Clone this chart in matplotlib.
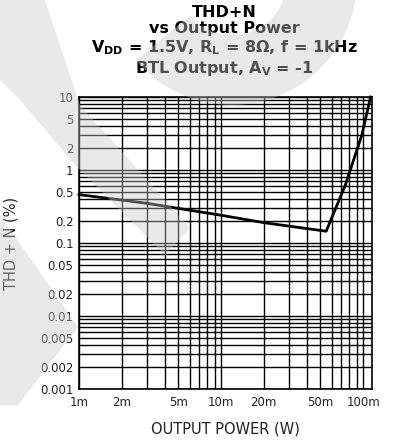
import numpy as np
import matplotlib
matplotlib.use('Agg')
import matplotlib.pyplot as plt
from matplotlib.patches import Polygon
from matplotlib.ticker import FixedLocator, LogLocator, NullFormatter

plt.rcParams['font.family'] = ['DejaVu Sans']
plt.rcParams['mathtext.fontset'] = 'custom'
plt.rcParams['mathtext.bf'] = 'DejaVu Sans:bold'
plt.rcParams['mathtext.rm'] = 'DejaVu Sans'

# THD+N curve, output power in W, distortion in %
power = [0.001, 0.003, 0.010, 0.020, 0.055, 0.075, 0.098, 0.113]
thdn = [0.46, 0.35, 0.24, 0.19, 0.145, 0.62, 3.0, 10.0]

x_ticks = [0.001, 0.002, 0.005, 0.01, 0.02, 0.05, 0.1]
x_labels = ['1m', '2m', '5m', '10m', '20m', '50m', '100m']
y_ticks = [10, 5, 2, 1, 0.5, 0.2, 0.1, 0.05, 0.02, 0.01, 0.005, 0.002, 0.001]
y_labels = ['10', '5', '2', '1', '0.5', '0.2', '0.1', '0.05', '0.02', '0.01',
            '0.005', '0.002', '0.001']

W, H = 393, 442
fig = plt.figure(figsize=(W / 100, H / 100), dpi=100)
ax = fig.add_axes([79 / W, 1 - 389 / H, 293 / W, 292 / H])

ax.set_xscale('log')
ax.set_yscale('log')
ax.set_xlim(0.001, 0.1156)
ax.set_ylim(0.001, 10)

# grid on every decade subdivision
ax.xaxis.set_major_locator(FixedLocator(x_ticks))
ax.xaxis.set_minor_locator(LogLocator(base=10, subs=np.arange(1, 10)))
ax.yaxis.set_major_locator(FixedLocator(y_ticks))
ax.yaxis.set_minor_locator(LogLocator(base=10, subs=np.arange(1, 10)))
ax.xaxis.set_minor_formatter(NullFormatter())
ax.yaxis.set_minor_formatter(NullFormatter())
ax.set_xticklabels(x_labels)
ax.set_yticklabels(y_labels)
ax.grid(True, which='both', color='black', linewidth=1.0)
ax.tick_params(which='both', length=0, labelsize=8.5, colors='#222222', pad=4)
ax.tick_params(axis='x', pad=5)
for s in ax.spines.values():
    s.set_linewidth(1.2)

ax.plot(power, thdn, color='black', linewidth=2.0, zorder=3, clip_on=False)

ax.set_xlabel('OUTPUT POWER (W)', fontsize=10.5, labelpad=9, color='#222222')
ax.set_ylabel('THD + N (%)', fontsize=10.5, color='#222222')
ax.yaxis.set_label_coords(-0.205, 0.50)

title = ('THD+N\nvs Output Power\n'
         'V$_{\\mathbf{DD}}$ = 1.5V, R$_{\\mathbf{L}}$ = 8$\\mathbf{\\Omega}$, f = 1kHz\n'
         'BTL Output, A$_{\\mathbf{V}}$ = -1')
fig.text(224 / W, 1 - 5 / H, title, ha='center', va='top', fontsize=11.5,
         fontweight='bold', linespacing=1.12)


# faint background logo, given in pixel coordinates (y down)
def to_fig(pts):
    pts = np.asarray(pts, dtype=float)
    return np.column_stack([pts[:, 0] / W, 1 - pts[:, 1] / H])


stripe = [(0, 0), (45, 0), (80, 105), (190, 228), (165, 255),
          (75, 165), (20, 100), (0, 80)]
chevron = [(0, 215), (78, 327), (18, 405), (0, 405)]
t = np.radians(np.linspace(-15, 140, 60))
cx, cy, r_in, r_out = 232, -20, 55, 125
ring = np.concatenate([
    np.column_stack([cx + r_out * np.cos(t), cy + r_out * np.sin(t)]),
    np.column_stack([cx + r_in * np.cos(t[::-1]), cy + r_in * np.sin(t[::-1])]),
])
for shape in (stripe, chevron, ring):
    fig.patches.append(Polygon(to_fig(shape), closed=True, transform=fig.transFigure,
                               facecolor='#c8c8c8', edgecolor='none', alpha=0.4,
                               zorder=10))

fig.savefig('out.png', dpi=100)
